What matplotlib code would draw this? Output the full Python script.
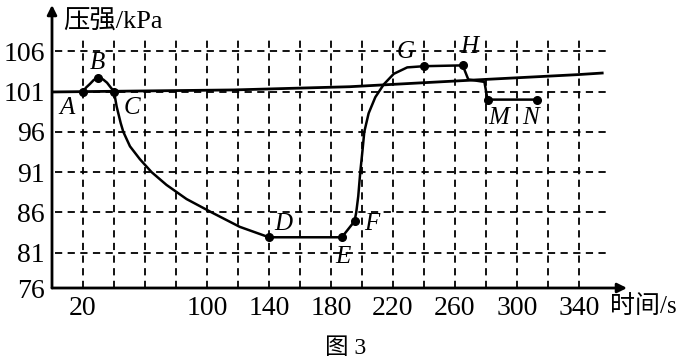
import matplotlib
matplotlib.use("Agg")
import matplotlib.pyplot as plt

SERIF = ["Liberation Serif", "Noto Sans CJK SC", "DejaVu Sans"]
plt.rcParams["font.family"] = SERIF

# atmospheric reference line (slightly rising)
base_t = [1, 117, 192, 240, 279, 339, 355]
base_p = [100.95, 101.2, 101.6, 102.1, 102.5, 103.1, 103.3]

# measured curve A -> B -> C -> ... -> D -> E -> F -> ... -> G -> H -> ... -> M -> N
curve_t = [20, 22, 24.5, 27, 30, 33, 35.5, 37.5, 40,
           41.7, 44.3, 46, 50.3, 56.7, 64.2, 73.9, 86.8, 102.9, 121.1, 140,
           187, 195.2, 196.3, 197.6, 198.9, 200.4, 201.5, 204.3, 208.6, 214.1,
           220.5, 229.2, 240, 265, 268.6, 279, 281, 313]
curve_p = [101, 101.5, 101.95, 102.45, 102.7, 102.5, 102.1, 101.6, 101,
           99.15, 97.1, 96, 94.2, 92.6, 91.0, 89.4, 87.65, 86.0, 84.2, 82.9,
           82.9, 84.9, 86.0, 88.0, 91.0, 93.8, 96.0, 98.3, 100.3, 101.9,
           103.2, 104.0, 104.15, 104.25, 102.5, 102.2, 100, 100]

# labelled points
pt_names = ["A", "B", "C", "D", "E", "F", "G", "H", "M", "N"]
pt_t = [20, 30, 40, 140, 187, 195.2, 240, 265, 281, 313]
pt_p = [101, 102.7, 101, 82.9, 82.9, 84.9, 104.15, 104.25, 100, 100]
lab_t = [9.7, 29, 51.6, 149, 188, 206, 228, 269, 288, 309]
lab_p = [98.9, 104.6, 99, 84.5, 80.5, 84.5, 105.9, 106.5, 97.7, 97.7]

x_ticks = [20, 100, 140, 180, 220, 260, 300, 340]
x_grid = list(range(20, 341, 20))
y_ticks = [76, 81, 86, 91, 96, 101, 106]
Y_BOTTOM = 76.6
X_END, Y_END = 371, 111.75

fig = plt.figure(figsize=(6.93, 3.63), dpi=100)
ax = fig.add_axes([52 / 693, 75 / 363, 575 / 693, 283 / 363])
ax.set_xlim(0, X_END)
ax.set_ylim(Y_BOTTOM, Y_END)
for s in ax.spines.values():
    s.set_visible(False)

# dashed grid
dash = (0, (4, 3))
ax.hlines(y_ticks[1:], 2, 358, colors="k", lw=1.3, linestyles=dash)
ax.vlines(x_grid, Y_BOTTOM, 107.5, colors="k", lw=1.3, linestyles=dash)

# axes with arrows
arrow = dict(arrowstyle="-|>", lw=2, color="k", mutation_scale=14, shrinkA=0, shrinkB=0)
ax.annotate("", xy=(X_END, Y_BOTTOM), xytext=(0, Y_BOTTOM), arrowprops=arrow, annotation_clip=False)
ax.annotate("", xy=(0, Y_END), xytext=(0, Y_BOTTOM), arrowprops=arrow, annotation_clip=False)

ax.plot(base_t, base_p, color="k", lw=2)
ax.plot(curve_t, curve_p, color="k", lw=1.8, solid_joinstyle="round")
ax.plot(pt_t, pt_p, "o", color="k", ms=5.5)
for name, tx, ty in zip(pt_names, lab_t, lab_p):
    ax.text(tx, ty, name, fontsize=18, style="italic", ha="center", va="center")

ax.set_xticks(x_ticks)
ax.set_xticklabels([str(v) for v in x_ticks], fontsize=20)
ax.set_yticks([Y_BOTTOM] + y_ticks[1:])
ax.set_yticklabels([str(v) for v in y_ticks], fontsize=20)
ax.tick_params(axis="x", length=0, pad=6)
ax.tick_params(axis="y", length=0, pad=5)

fig.text(63 / 693, 1 - 22 / 363, "压强/kPa", fontsize=19, ha="left", va="center")
fig.text(610 / 693, 1 - 307 / 363, "时间/s", fontsize=18, ha="left", va="center")
fig.text(346 / 693, 1 - 348 / 363, "图 3", fontsize=17, ha="center", va="center")

fig.savefig("out.png", dpi=100)
